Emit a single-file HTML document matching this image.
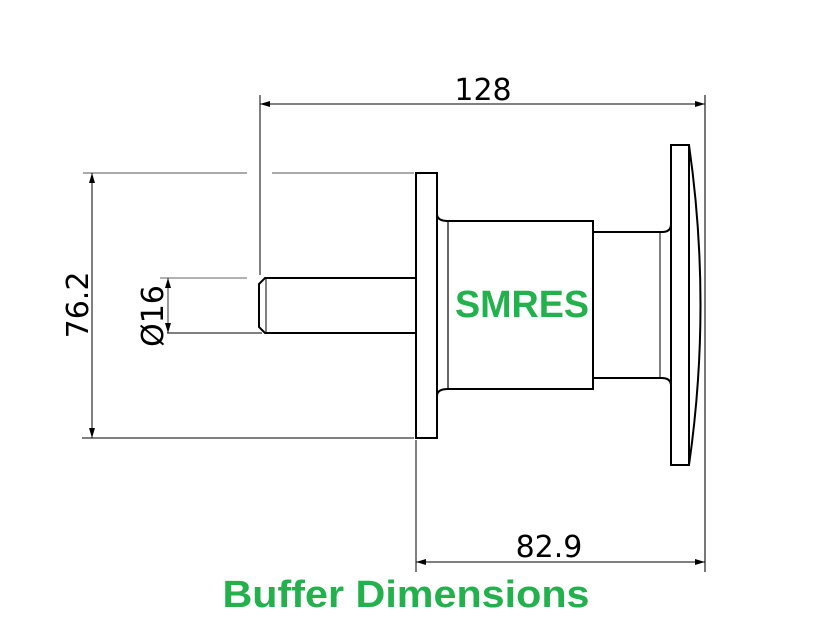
<!DOCTYPE html>
<html><head><meta charset="utf-8"><style>
html,body{margin:0;padding:0;background:#fff;}
svg{display:block;}
</style></head><body>
<svg width="818" height="633" viewBox="0 0 818 633" xmlns="http://www.w3.org/2000/svg">
<defs>
<marker id="a" viewBox="0 0 10 6" refX="10" refY="3" markerWidth="18" markerHeight="6" markerUnits="userSpaceOnUse" orient="auto-start-reverse"><path d="M0,0 L10,3 L0,6 Z" fill="#000"/></marker>
</defs>
<g stroke="#000" fill="none" stroke-width="1">
<line x1="260" y1="95" x2="260" y2="275" stroke-width="1"/>
<line x1="705" y1="95" x2="705" y2="572" stroke="#777" stroke-width="2"/>
<line x1="416" y1="440" x2="416" y2="572"/>
<line x1="83" y1="173" x2="247" y2="173" stroke="#555"/>
<line x1="272" y1="173" x2="414" y2="173" stroke="#555"/>
<line x1="82" y1="438" x2="414" y2="438"/>
<line x1="160" y1="278" x2="247" y2="278" stroke="#666"/>
<line x1="167" y1="333" x2="262" y2="333"/>
<line x1="260" y1="104" x2="705" y2="104" marker-start="url(#a)" marker-end="url(#a)"/>
<line x1="416" y1="562" x2="705" y2="562" marker-start="url(#a)" marker-end="url(#a)"/>
<line x1="92" y1="173" x2="92" y2="438" marker-start="url(#a)" marker-end="url(#a)"/>
<line x1="168" y1="278" x2="168" y2="333" marker-start="url(#a)" marker-end="url(#a)" stroke-width="0.8"/>
</g>
<g stroke="#000" fill="none" stroke-width="2">
<path d="M416,278 L265,278 L259,284 L259,327 L265,333 L416,333"/>
<line x1="266" y1="278" x2="266" y2="333" stroke-width="1"/>
<rect x="416" y="173" width="21" height="265"/>
<path d="M437,214 Q437,221 448,221 L593,221 L593,389 L448,389 Q437,389 437,396"/>
<line x1="448" y1="221" x2="448" y2="389" stroke-width="1.2"/>
<path d="M593,232 L662,232 Q671,232 671,224"/>
<path d="M593,378 L662,378 Q671,378 671,386"/>
<line x1="660" y1="232" x2="660" y2="378" stroke-width="1"/>
<rect x="671" y="145" width="18" height="320"/>
<path d="M689,145 Q712,305 689,465"/>
</g>
<g font-family="'DejaVu Sans','Liberation Sans',sans-serif" fill="#000" font-size="30">
<text x="483" y="100" text-anchor="middle">128</text>
<text x="549" y="557" text-anchor="middle">82.9</text>
<text transform="translate(88,305) rotate(-90)" text-anchor="middle">76.2</text>
<text transform="translate(163,316) rotate(-90)" text-anchor="middle">Ø16</text>
</g>
<g font-family="'Liberation Sans',sans-serif" font-weight="bold" fill="#22b14c">
<text x="522" y="317" text-anchor="middle" font-size="38" textLength="134" lengthAdjust="spacingAndGlyphs">SMRES</text>
<text x="406" y="607" text-anchor="middle" font-size="38" textLength="367" lengthAdjust="spacingAndGlyphs">Buffer Dimensions</text>
</g>
</svg>
</body></html>
